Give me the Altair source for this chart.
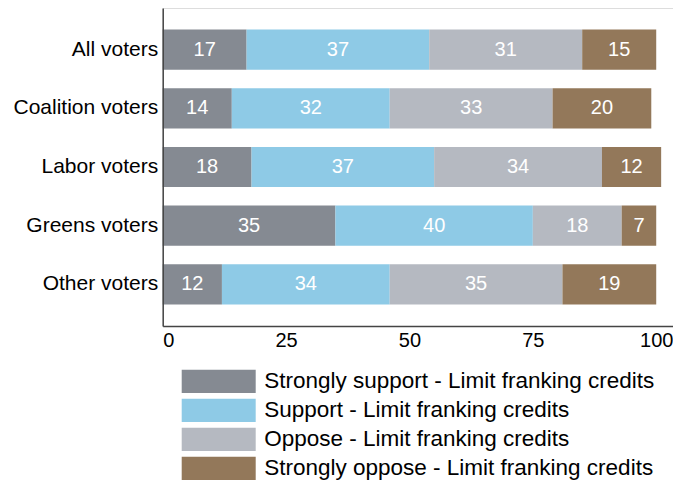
import altair as alt
import pandas as pd

categories = ["All voters", "Coalition voters", "Labor voters", "Greens voters", "Other voters"]
series_names = [
    "Strongly support - Limit franking credits",
    "Support - Limit franking credits",
    "Oppose - Limit franking credits",
    "Strongly oppose - Limit franking credits",
]
strongly_support = [17, 14, 18, 35, 12]
support = [37, 32, 37, 40, 34]
oppose = [31, 33, 34, 18, 35]
strongly_oppose = [15, 20, 12, 7, 19]
colors = ["#858a92", "#8ecae6", "#b5b9c1", "#93785a"]
x_ticks = [0, 25, 50, 75, 100]

rows = []
for si, (name, vals) in enumerate(zip(series_names, [strongly_support, support, oppose, strongly_oppose])):
    for cat, v in zip(categories, vals):
        rows.append({"category": cat, "series": name, "order": si, "value": v})
df = pd.DataFrame(rows)
legdf = pd.DataFrame({"series": series_names})

FONT = "Liberation Sans"

color = alt.Color("series:N", scale=alt.Scale(domain=series_names, range=colors), legend=None)
yscale = alt.Scale(domain=categories, paddingInner=0.316, paddingOuter=0.368)

base = alt.Chart(df).transform_stack(
    stack="value", groupby=["category"], as_=["x0", "x1"],
    sort=[alt.SortField("order", order="ascending")]
).transform_calculate(mid="(datum.x0 + datum.x1) / 2")

xaxis = alt.Axis(values=x_ticks, title=None, grid=False, labelFontSize=20, ticks=False,
                 labelPadding=4, domainColor="#444444", domainWidth=1.5, labelColor="black")
xscale = alt.Scale(domain=[0, 103.4], nice=False, zero=True)

bars = base.mark_rect().encode(
    y=alt.Y("category:N", sort=categories, scale=yscale,
            axis=alt.Axis(title=None, labelFontSize=21, labelColor="black", ticks=False,
                          labelPadding=5, domainColor="#444444", domainWidth=1.5)),
    x=alt.X("x0:Q", scale=xscale, axis=xaxis),
    x2="x1:Q",
    color=color,
)
labels = base.mark_text(color="white", fontSize=20, baseline="middle", align="center").encode(
    y=alt.Y("category:N", sort=categories, scale=yscale),
    x=alt.X("mid:Q", scale=xscale, title=None),
    text=alt.Text("value:Q"),
)

legscale = alt.Scale(domain=series_names, range=[361.7, 472.0], paddingInner=0.197, paddingOuter=0)
leg_rect = alt.Chart(legdf).mark_rect().encode(
    x=alt.value(19), x2=alt.value(93),
    y=alt.Y("series:N", sort=series_names, scale=legscale, axis=None),
    color=color,
)
leg_text = alt.Chart(legdf).mark_text(align="left", baseline="middle", fontSize=22.5, color="black").encode(
    x=alt.value(101.5),
    y=alt.Y("series:N", sort=series_names, scale=legscale, axis=None),
    text="series:N",
)

chart = alt.layer(
    alt.layer(bars, labels),
    alt.layer(leg_rect, leg_text),
).resolve_scale(y="independent").properties(
    width=510.3, height=318,
    autosize=alt.AutoSizeParams(type="none"),
    padding={"left": 154.7, "top": 0, "right": 0, "bottom": 154},
).configure_view(stroke=None).configure(font=FONT)

chart.save("out.html", embed_options={"renderer": "svg", "actions": False})
